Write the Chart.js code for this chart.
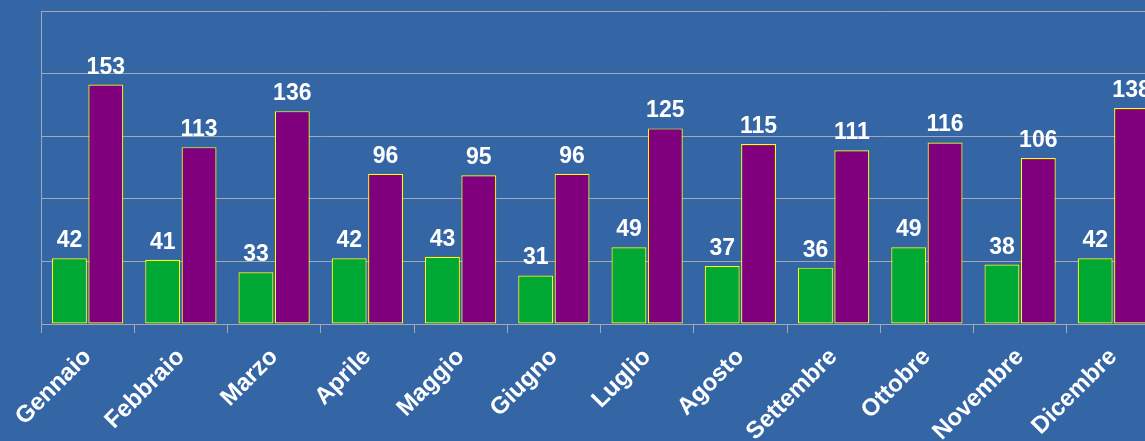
<!DOCTYPE html>
<html>
<head>
<meta charset="utf-8">
<script src="https://cdn.jsdelivr.net/npm/chart.js@4/dist/chart.umd.min.js"></script>
<style>
  html, body { margin: 0; padding: 0; overflow: hidden; background: #3465a5; }
  #wrap { width: 1160px; height: 441px; position: relative; }
</style>
</head>
<body>
<div id="wrap"><canvas id="chart"></canvas></div>
<script>
// months and the two series
const months = ['Gennaio', 'Febbraio', 'Marzo', 'Aprile', 'Maggio', 'Giugno',
  'Luglio', 'Agosto', 'Settembre', 'Ottobre', 'Novembre', 'Dicembre'];
const greenValues = [42, 41, 33, 42, 43, 31, 49, 37, 36, 49, 38, 42];
const purpleValues = [153, 113, 136, 96, 95, 96, 125, 115, 111, 116, 106, 138];
const yTicks = [0, 40, 80, 120, 160, 200];

const gridColor = '#a3a9b3';

// draw the value above every bar
const valueLabels = {
  id: 'valueLabels',
  afterDatasetsDraw(chart) {
    const ctx = chart.ctx;
    ctx.save();
    ctx.fillStyle = '#ffffff';
    ctx.font = 'bold 23px "Liberation Sans", Arial, sans-serif';
    ctx.textAlign = 'center';
    ctx.textBaseline = 'alphabetic';
    chart.data.datasets.forEach((ds, i) => {
      chart.getDatasetMeta(i).data.forEach((bar, j) => {
        ctx.fillText(ds.data[j], bar.x, bar.y - 11);
      });
    });
    ctx.restore();
  }
};

new Chart(document.getElementById('chart'), {
  type: 'bar',
  data: {
    labels: months,
    datasets: [
      { data: greenValues, backgroundColor: '#00a834', borderColor: '#ffff00',
        borderWidth: 1.2, borderSkipped: false },
      { data: purpleValues, backgroundColor: '#80007e', borderColor: '#ffff00',
        borderWidth: 1.2, borderSkipped: false }
    ]
  },
  options: {
    responsive: true,
    maintainAspectRatio: false,
    animation: false,
    layout: { padding: { left: 41, top: 11, right: 0, bottom: 0 } },
    datasets: { bar: { categoryPercentage: 0.78, barPercentage: 0.96 } },
    plugins: { legend: { display: false }, tooltip: { enabled: false } },
    scales: {
      x: {
        grid: { drawOnChartArea: false, drawTicks: true, tickLength: 9,
          color: gridColor, offset: true },
        border: { color: gridColor },
        ticks: {
          color: '#ffffff', autoSkip: false, maxRotation: 45, minRotation: 45,
          padding: 10,
          font: { family: '"Liberation Sans", Arial, sans-serif', size: 24, weight: 'bold' }
        },
        afterFit(scale) {
          scale.height = 117;
          scale.paddingLeft = 0;
          scale.paddingRight = 0;
        }
      },
      y: {
        min: 0, max: 200,
        afterBuildTicks(scale) { scale.ticks = yTicks.map(v => ({ value: v })); },
        grid: { color: gridColor, drawTicks: false },
        border: { color: gridColor },
        ticks: { display: false }
      }
    }
  },
  plugins: [valueLabels]
});
</script>
</body>
</html>
